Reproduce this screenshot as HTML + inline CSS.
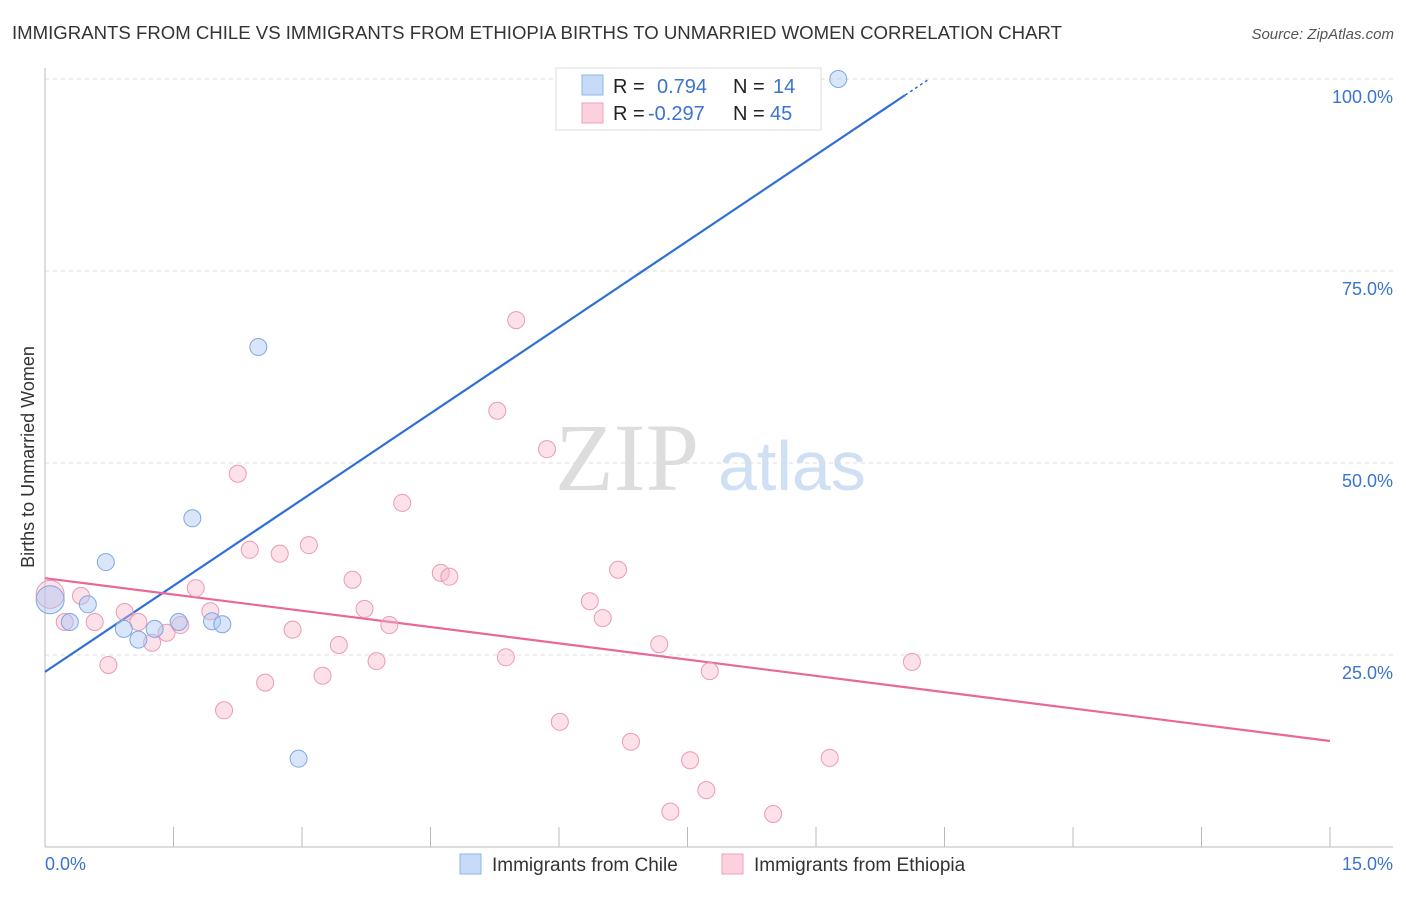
<!DOCTYPE html>
<html><head><meta charset="utf-8"><style>
body{margin:0;background:#fff;font-family:"Liberation Sans",sans-serif;}
</style></head><body>
<svg id="chart" width="1406" height="892" xmlns="http://www.w3.org/2000/svg" font-family="Liberation Sans, sans-serif">
<text x="12" y="39" font-size="18.6" fill="#333">IMMIGRANTS FROM CHILE VS IMMIGRANTS FROM ETHIOPIA BIRTHS TO UNMARRIED WOMEN CORRELATION CHART</text>
<text x="1394" y="39" font-size="15" fill="#555" font-style="italic" text-anchor="end">Source: ZipAtlas.com</text>
<text x="555" y="490" font-size="96" fill="#ddd" font-family="Liberation Serif, serif">ZIP</text>
<text x="718" y="490" font-size="70" fill="#cfe0f5">atlas</text>
<text transform="translate(34,457) rotate(-90)" font-size="18" fill="#333" text-anchor="middle">Births to Unmarried Women</text>
<g id="grid"></g><g id="axes"></g><g id="lines"></g><g id="pts"></g>
<g>
<rect x="556" y="68" width="265" height="62" fill="#fff" stroke="#ddd"/>
<rect x="582" y="75" width="21" height="20" fill="#c5dbf7" stroke="#8fb6ea"/>
<rect x="582" y="103" width="21" height="20" fill="#fcd0dc" stroke="#f0a0b8"/>
<text x="613" y="93" font-size="20" fill="#222">R =</text><text x="657" y="93" font-size="20" fill="#3a74d0">0.794</text>
<text x="733" y="93" font-size="20" fill="#222">N =</text><text x="773" y="93" font-size="20" fill="#3a74d0">14</text>
<text x="613" y="120" font-size="20" fill="#222">R =</text><text x="648" y="120" font-size="20" fill="#3a74d0">-0.297</text>
<text x="733" y="120" font-size="20" fill="#222">N =</text><text x="770" y="120" font-size="20" fill="#3a74d0">45</text>
</g>
<g>
<rect x="460" y="854" width="21" height="20" fill="#c5dbf7" stroke="#8fb6ea"/>
<text x="492" y="871" font-size="19" fill="#333">Immigrants from Chile</text>
<rect x="722" y="854" width="21" height="20" fill="#fcd0dc" stroke="#f0a0b8"/>
<text x="754" y="871" font-size="19" fill="#333">Immigrants from Ethiopia</text>
</g>
</svg>
<script>
const chileX=[9.26,2.49,1.72,0.71,0.50,0.29,0.92,1.28,1.09,1.56,1.95,2.07,2.96,0.06];
const chileY=[100,65.1,42.8,37.1,31.6,29.3,28.4,28.4,27.0,29.3,29.4,29.0,11.5,32.2];
const ethX=[0.06,0.42,0.23,0.58,0.74,0.93,1.09,1.25,1.42,1.58,1.76,1.93,2.09,2.25,2.39,2.57,2.74,2.89,3.08,3.24,3.43,3.59,3.73,3.87,4.02,4.17,4.62,4.72,5.28,5.38,5.50,5.86,6.01,6.36,6.51,6.69,6.84,7.17,7.30,7.53,7.72,7.76,8.50,9.16,10.12];
const ethY=[32.9,32.7,29.3,29.3,23.7,30.6,29.3,26.6,27.9,28.9,33.7,30.7,17.8,48.6,38.7,21.4,38.2,28.3,39.3,22.3,26.3,34.8,31.0,24.2,28.9,44.8,35.7,35.2,56.8,24.7,68.6,51.8,16.3,32.0,29.8,36.1,13.7,26.4,4.6,11.3,7.4,22.9,4.3,11.6,24.1];
const yTicks=[25,50,75,100];
const yTickLabels=["25.0%","50.0%","75.0%","100.0%"];
const xTicks=[0,1.5,3,4.5,6,7.5,9,10.5,12,13.5,15];
const blueLine=[22.8,7.48]; // intercept, slope
const pinkLine=[35.0,13.8]; // y at x=0, y at x=15
const NS="http://www.w3.org/2000/svg";
const sx=v=>45+v/15*1285, sy=v=>847-v*7.68;
function mk(t,a,p){const e=document.createElementNS(NS,t);for(const k in a)e.setAttribute(k,a[k]);document.getElementById(p).appendChild(e);return e;}
yTicks.forEach((t,i)=>{
 const l=mk('line',{x1:45,x2:1393,y1:sy(t),y2:sy(t),stroke:'#ddd','stroke-dasharray':'4,4'},'grid');
 
 
 const tx=mk('text',{x:1393,y:sy(t)+24,'font-size':18,fill:'#3a74d0','text-anchor':'end'},'axes');
 tx.textContent=yTickLabels[i];
 
 
});
const ax=mk('line',{x1:45,x2:45,y1:68,y2:847,stroke:'#bbb'},'axes');


const bx=mk('line',{x1:45,x2:1393,y1:847,y2:847,stroke:'#bbb'},'axes');


xTicks.forEach(t=>{const l=mk('line',{x1:sx(t),x2:sx(t),y1:827,y2:847,stroke:'#bbb'},'axes');
 
 });
let t0=mk('text',{x:45,y:870,'font-size':18,fill:'#3a74d0'},'axes');t0.textContent="0.0%";


let t1=mk('text',{x:1393,y:870,'font-size':18,fill:'#3a74d0','text-anchor':'end'},'axes');t1.textContent="15.0%";


const bEnd=10.04;
let b1=mk('line',{x1:sx(0),y1:sy(blueLine[0]),x2:sx(bEnd),y2:sy(blueLine[0]+blueLine[1]*bEnd),stroke:'#2f6fd6','stroke-width':2.2},'lines');


let b2=mk('line',{x1:sx(bEnd),y1:sy(blueLine[0]+blueLine[1]*bEnd),x2:sx(10.3),y2:sy(blueLine[0]+blueLine[1]*10.3),stroke:'#2f6fd6','stroke-width':1.5,'stroke-dasharray':'3,3'},'lines');


let p1=mk('line',{x1:sx(0),y1:sy(pinkLine[0]),x2:sx(15),y2:sy(pinkLine[1]),stroke:'#e8689a','stroke-width':2.2},'lines');


ethX.forEach((x,i)=>{const c=mk('circle',{cx:sx(x),cy:sy(ethY[i]),r:i==0?14:8.5,fill:'rgba(248,180,200,0.4)',stroke:'#eb9ab5','stroke-width':1},'pts');
 
 });
chileX.forEach((x,i)=>{const c=mk('circle',{cx:sx(x),cy:sy(chileY[i]),r:i==13?14:8.5,fill:'rgba(170,200,245,0.45)',stroke:'#7ea7e2','stroke-width':1},'pts');
 
 });
</script>
</body></html>
